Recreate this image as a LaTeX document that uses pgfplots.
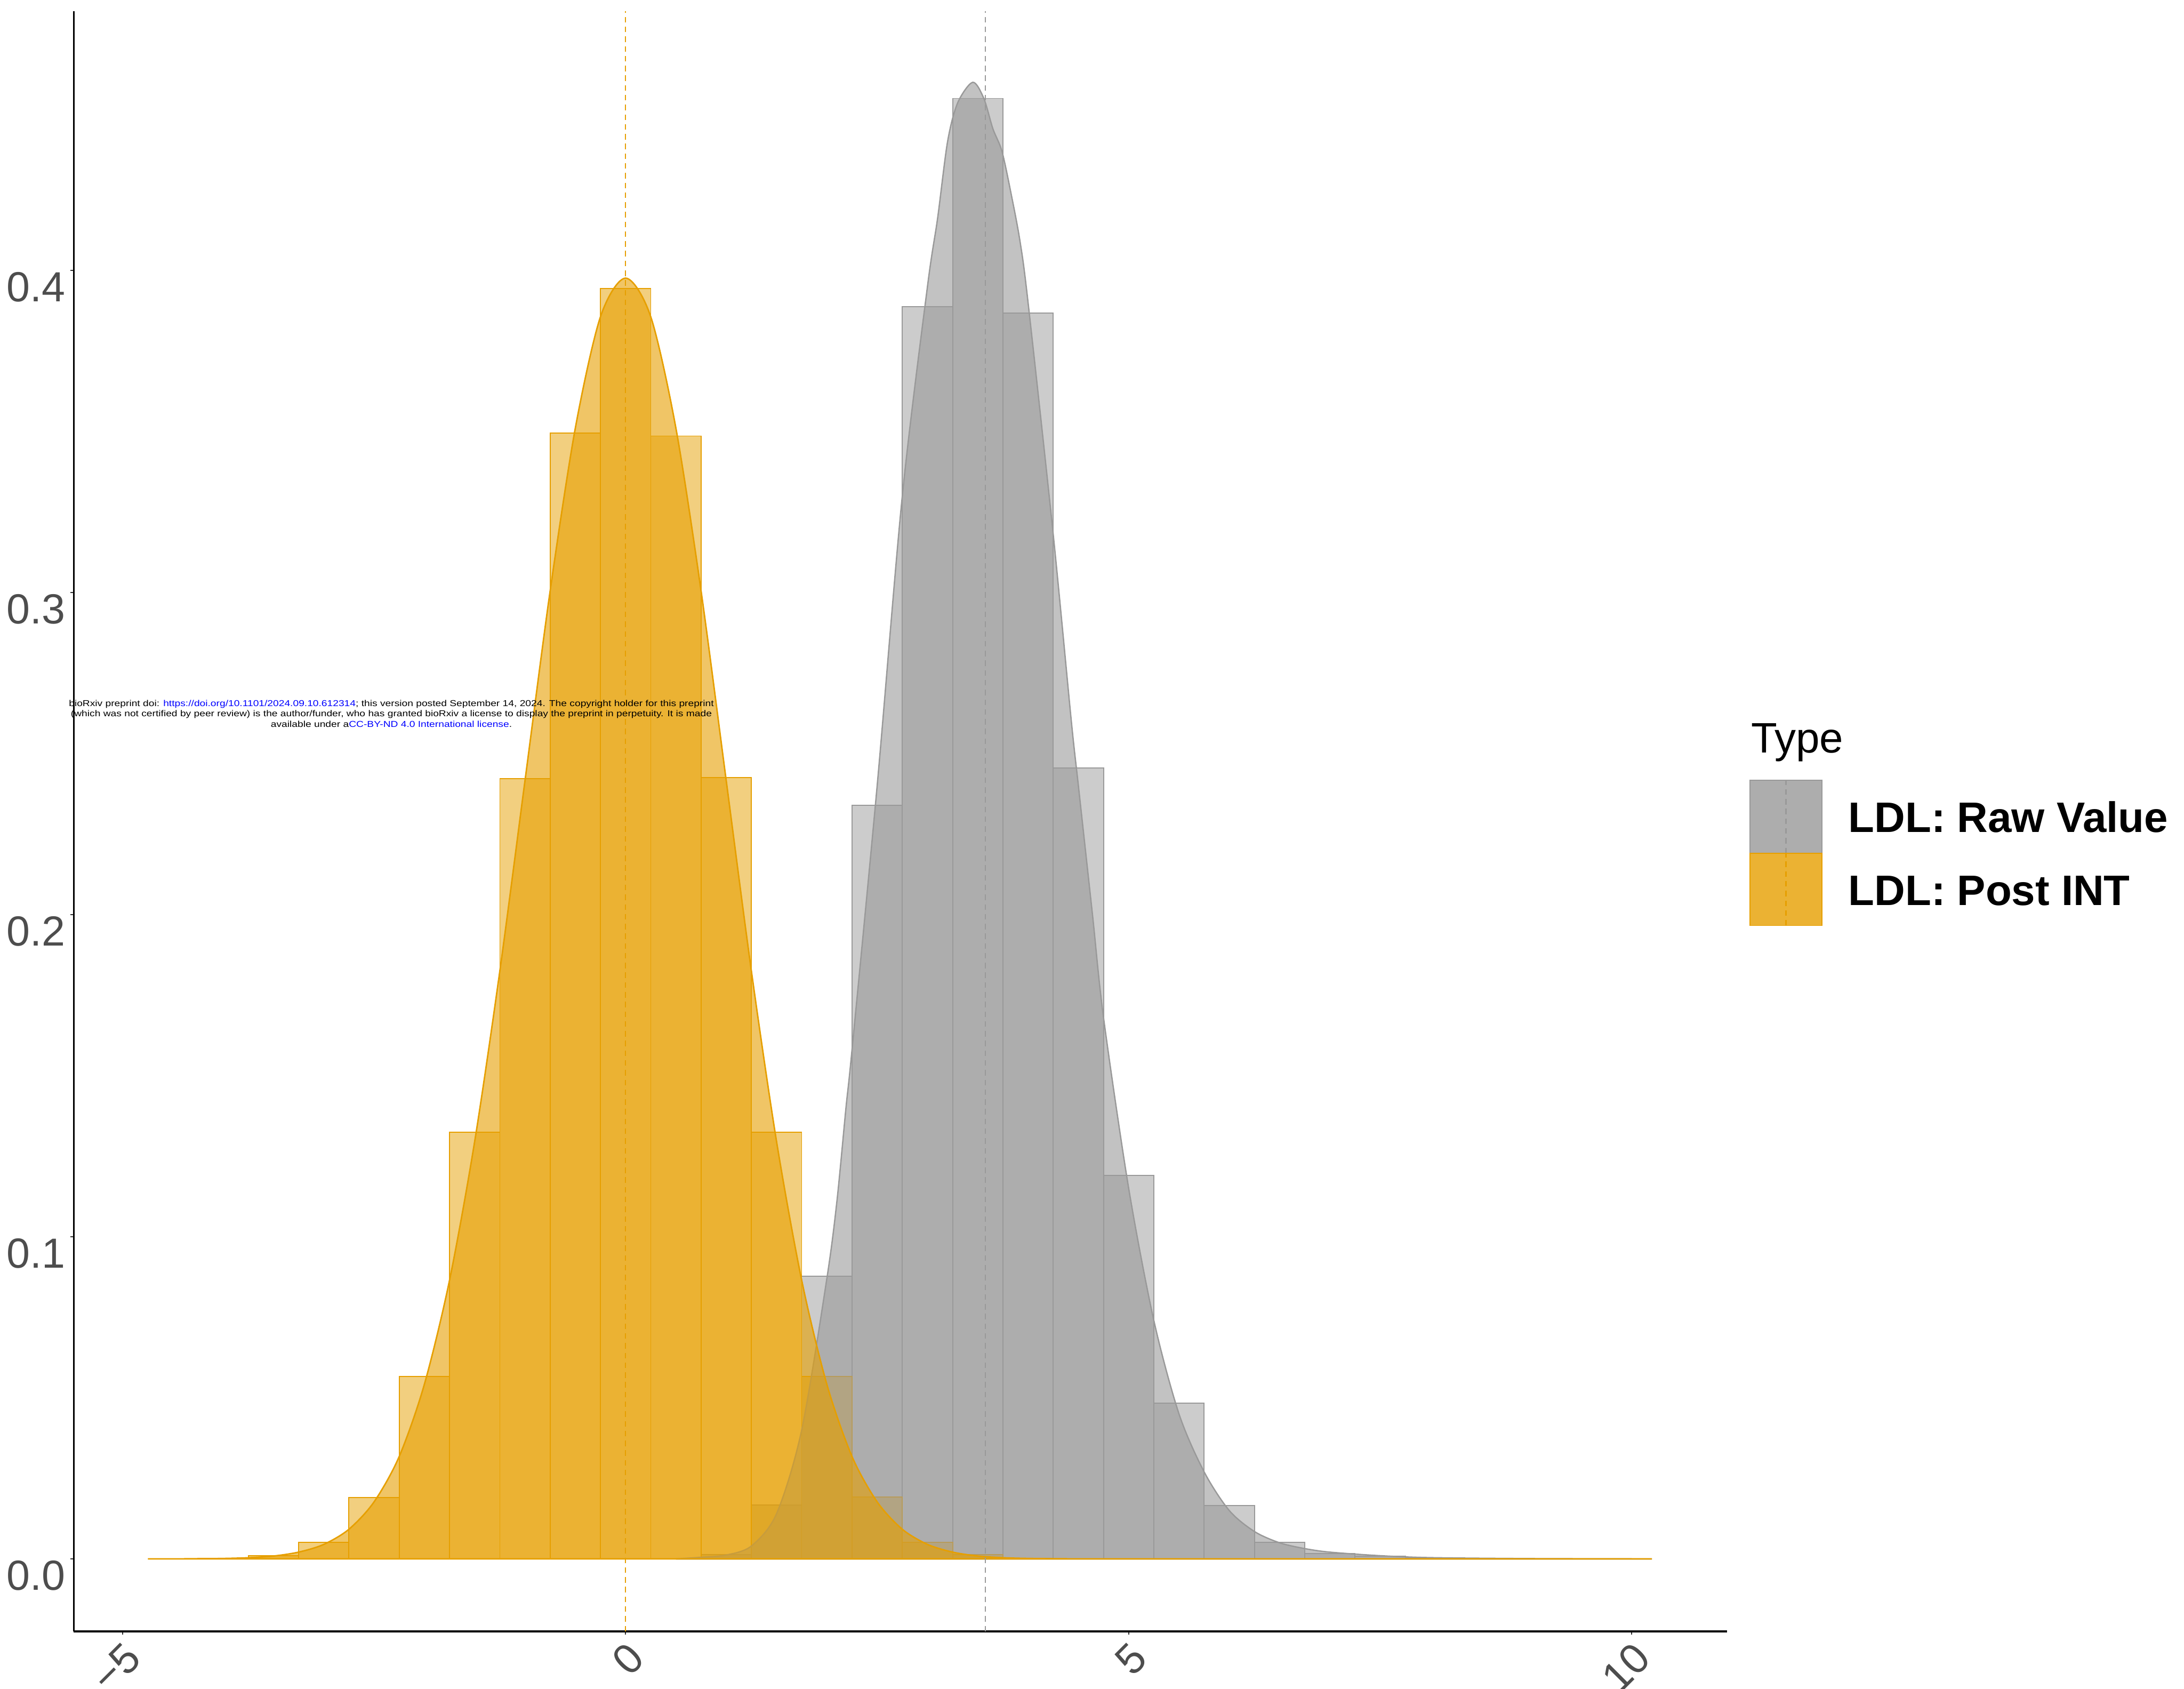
\documentclass[border=0pt]{standalone}
\usepackage{fontspec}
\setmainfont{Liberation Sans}
\usepackage{pgfplots}
\pgfplotsset{compat=1.18}
\usepackage{graphicx}

\definecolor{rawgray}{HTML}{999999}
\definecolor{intorange}{HTML}{E69F00}
\definecolor{ticktext}{HTML}{4D4D4D}
\definecolor{tickline}{HTML}{333333}
\definecolor{linkblue}{HTML}{0000FF}

\begin{document}
\begin{tikzpicture}
\path[use as bounding box] (0,0) rectangle (15.68,12.12);
\begin{axis}[
  at={(0.53cm,0.41cm)}, anchor=south west,
  width=11.87cm, height=11.63cm, scale only axis,
  xmin=-5.484, xmax=10.948, ymin=-0.0225, ymax=0.4805,
  axis x line*=bottom, axis y line*=left,
  axis line style={black, line width=0.35pt},
  xtick={-5,0,5,10}, xticklabels={−5,0,5,10},
  ytick={0,0.1,0.2,0.3,0.4}, yticklabels={0.0,0.1,0.2,0.3,0.4},
  tick align=outside, major tick length=0.025cm,
  tick style={tickline, line width=0.25pt},
  ticklabel style={font=\fontsize{8.6}{10}\selectfont, text=ticktext, inner sep=0pt},
  xticklabel style={rotate=45, anchor=north east},
  yticklabel style={anchor=east, yshift=-0.12cm},
  xticklabel shift=0.03cm, yticklabel shift=0.03cm,
  minor tick num=0,
]
% histogram of raw LDL values (bin width 0.5)
\addplot[ybar, bar width=0.5, bar shift=0pt, fill=rawgray, fill opacity=0.5,
  draw=rawgray, line width=0.2pt] coordinates {
  (1.0,0.0013) (1.5,0.0167) (2.0,0.0878) (2.5,0.234) (3.0,0.3888)
  (3.5,0.4534) (4.0,0.3867) (4.5,0.2455) (5.0,0.119) (5.5,0.0484)
  (6.0,0.0165) (6.5,0.0052) (7.0,0.0017) (7.5,0.0009) (8.0,0.0004)
};
% histogram of the inverse-normal transformed values
\addplot[ybar, bar width=0.5, bar shift=0pt, fill=intorange, fill opacity=0.5,
  draw=intorange, line width=0.2pt] coordinates {
  (-4.0,0.0002) (-3.5,0.0010) (-3.0,0.0052) (-2.5,0.0190) (-2.0,0.0567)
  (-1.5,0.1324) (-1.0,0.2422) (-0.5,0.3495) (0.0,0.3944) (0.5,0.3486)
  (1.0,0.2426) (1.5,0.1324) (2.0,0.0567) (2.5,0.0192) (3.0,0.0052)
  (3.5,0.0013) (4.0,0.0002)
};
% kernel density, raw values
\addplot[smooth, fill=rawgray, fill opacity=0.6, draw=rawgray, line width=0.27pt] coordinates {
  (0.5,0) (0.75,0.0005) (1.0,0.0012) (1.25,0.004) (1.5,0.014) (1.75,0.04)
  (2.0,0.087) (2.1,0.111) (2.19,0.14) (2.25,0.158) (2.5,0.24) (2.75,0.33)
  (3.0,0.395) (3.1,0.416) (3.2,0.44) (3.3,0.452) (3.45,0.4584) (3.56,0.4534)
  (3.65,0.444) (3.74,0.437) (3.83,0.424) (3.92,0.409) (4.0,0.39) (4.25,0.318)
  (4.43,0.26) (4.5,0.24) (4.64,0.20) (4.75,0.168) (5.0,0.115) (5.25,0.074)
  (5.5,0.045) (5.75,0.027) (6.0,0.015) (6.25,0.0085) (6.5,0.005) (6.75,0.0032)
  (7.0,0.0021) (7.5,0.001) (8.0,0.0004) (9.0,0.0001) (10.2,0)
} \closedcycle;
% kernel density, transformed values
\addplot[smooth, fill=intorange, fill opacity=0.6, draw=intorange, line width=0.3pt] coordinates {
  (-4.74,0.00001) (-4.5,0.00002) (-4.25,0.00005) (-4.0,0.00014) (-3.75,0.00036)
  (-3.5,0.00089) (-3.25,0.0021) (-3.0,0.0045) (-2.75,0.0092) (-2.5,0.0177)
  (-2.25,0.0318) (-2.0,0.0542) (-1.75,0.0865) (-1.5,0.1296) (-1.25,0.1825)
  (-1.0,0.2416) (-0.75,0.3005) (-0.5,0.3510) (-0.25,0.3856) (0,0.3976)
  (0.25,0.3856) (0.5,0.3510) (0.75,0.3005) (1.0,0.2416) (1.25,0.1825)
  (1.5,0.1296) (1.75,0.0865) (2.0,0.0542) (2.25,0.0318) (2.5,0.0177)
  (2.75,0.0092) (3.0,0.0045) (3.25,0.0021) (3.5,0.00089) (3.75,0.00036)
  (4.0,0.00014) (4.25,0.00005) (4.5,0.00002) (4.75,0.00001) (5.0,0)
  (7.0,0) (10.2,0)
} \closedcycle;
% group means
\addplot[intorange, line width=0.23pt, dash pattern=on 0.04cm off 0.03cm] coordinates {(0,-0.0225) (0,0.4805)};
\addplot[rawgray, line width=0.23pt, dash pattern=on 0.04cm off 0.03cm] coordinates {(3.574,-0.0225) (3.574,0.4805)};
\end{axis}

% preprint notice
\node[inner sep=0pt] at (2.81,6.99) {\resizebox*{4.63cm}{0.222cm}{\begin{tabular}{@{}c@{}}
bioRxiv preprint doi: \textcolor{linkblue}{https://doi.org/10.1101/2024.09.10.612314}; this version posted September 14, 2024. The copyright holder for this preprint\\
(which was not certified by peer review) is the author/funder, who has granted bioRxiv a license to display the preprint in perpetuity. It is made\\
available under a\textcolor{linkblue}{CC-BY-ND 4.0 International license}.
\end{tabular}}};

% legend
\node[anchor=base west, inner sep=0pt, font=\fontsize{8.7}{10}\selectfont] at (12.565,6.715) {Type};
\fill[rawgray, opacity=0.5] (12.565,5.995) rectangle (13.079,6.518);
\fill[rawgray, opacity=0.6] (12.565,5.995) rectangle (13.079,6.518);
\draw[rawgray, line width=0.2pt] (12.565,5.995) rectangle (13.079,6.518);
\draw[rawgray, line width=0.23pt, dash pattern=on 0.04cm off 0.03cm] (12.822,5.995) -- (12.822,6.518);
\fill[intorange, opacity=0.5] (12.565,5.476) rectangle (13.079,5.995);
\fill[intorange, opacity=0.6] (12.565,5.476) rectangle (13.079,5.995);
\draw[intorange, line width=0.2pt] (12.565,5.476) rectangle (13.079,5.995);
\draw[intorange, line width=0.23pt, dash pattern=on 0.04cm off 0.03cm] (12.822,5.476) -- (12.822,5.995);
\node[anchor=base west, inner sep=0pt, font=\bfseries\fontsize{8.7}{10}\selectfont] at (13.264,6.148) {LDL: Raw Value};
\node[anchor=base west, inner sep=0pt, font=\bfseries\fontsize{8.7}{10}\selectfont] at (13.264,5.62) {LDL: Post INT};
\end{tikzpicture}
\end{document}
